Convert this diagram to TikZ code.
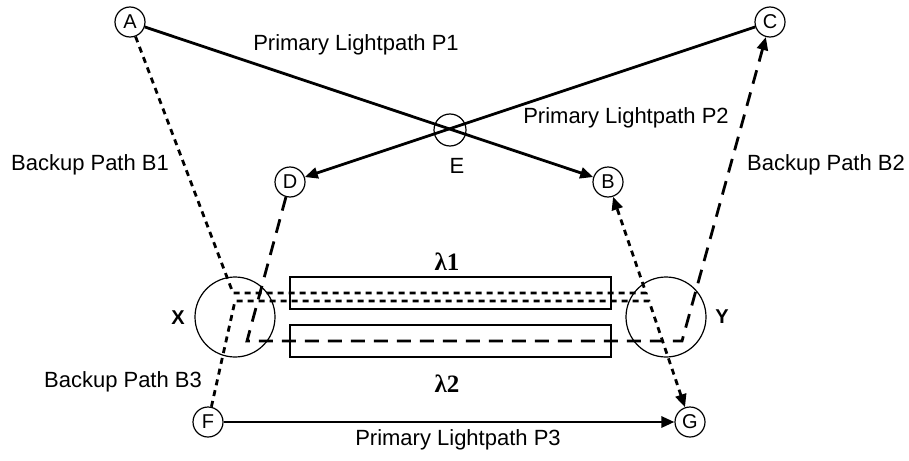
\documentclass[tikz,border=0pt]{standalone}
\usepackage{fontspec}
\setmainfont{Liberation Sans}
\newfontfamily\lamfont{Liberation Serif}
\usetikzlibrary{arrows.meta}

\begin{document}
\begin{tikzpicture}[x=1pt,y=-1pt,
  site/.style={circle,draw,line width=1.2pt,minimum size=30pt,inner sep=0pt,
    font=\fontsize{20}{24}\selectfont},
  hub/.style={circle,draw,line width=1.2pt,minimum size=80pt,inner sep=0pt},
  lane/.style={draw,line width=1.2pt,minimum width=321pt,minimum height=32pt,inner sep=0pt},
  tip/.style={-{Triangle[length=13pt,width=11pt]}},
  primary/.style={line width=2.8pt,tip},
  backupdot/.style={line width=2.8pt,dash pattern=on 6pt off 5pt,tip},
  backupdash/.style={line width=2.8pt,dash pattern=on 14pt off 9pt,tip},
  lbl/.style={font=\fontsize{22}{26}\selectfont,inner sep=0pt},
  hublbl/.style={font=\fontsize{20}{24}\selectfont\bfseries,inner sep=0pt},
  lamlbl/.style={font=\fontsize{25}{29}\selectfont\lamfont\bfseries,inner sep=0pt},
]
\useasboundingbox (0,0) rectangle (909,460);

% wavelength channels between the two switching nodes
\node[lane] (w1) at (450.5,293) {};
\node[lane] (w2) at (450.5,341) {};
\node[lamlbl] (l1) at (447,262) {λ1};
\node[lamlbl] (l2) at (447,384) {λ2};

% switching nodes
\node[hub] (X) at (235,317) {};
\node[hub] (Y) at (666,317) {};
\node[hublbl] (xl) at (178,318) {X};
\node[hublbl] (yl) at (722,317) {Y};

% end nodes
\node[site] (A) at (130,22) {A};
\node[site] (B) at (608,182) {B};
\node[site] (C) at (770,22) {C};
\node[site] (D) at (290,182) {D};
\node[site] (F) at (208,422) {F};
\node[site] (G) at (690,422) {G};
\node[circle,draw,line width=1.2pt,minimum size=32pt,inner sep=0pt] (E) at (450,130) {};
\node[lbl] (el) at (457,166) {E};

% turning points of the backup paths inside X and Y
\coordinate (xa) at (233,293);
\coordinate (ya) at (646,293);
\coordinate (xf) at (235,301);
\coordinate (yf) at (649,301);
\coordinate (xd) at (247,341);
\coordinate (yd) at (682,341);

% primary lightpaths
\draw[primary] (A) -- (B);
\draw[primary] (C) -- (D);
\draw[primary] (F) -- (G);

% backup paths
\draw[backupdot] (A) -- (xa) -- (ya) -- (B);
\draw[backupdot] (F) -- (xf) -- (yf) -- (G);
\draw[backupdash] (D) -- (xd) -- (yd) -- (C);

% path labels
\node[lbl] (p1) at (356,45) {Primary Lightpath P1};
\node[lbl] (p2) at (626,118) {Primary Lightpath P2};
\node[lbl] (p3) at (458,440) {Primary Lightpath P3};
\node[lbl] (b1) at (90,165) {Backup Path B1};
\node[lbl] (b2) at (826,165) {Backup Path B2};
\node[lbl] (b3) at (123,382) {Backup Path B3};
\end{tikzpicture}
\end{document}
